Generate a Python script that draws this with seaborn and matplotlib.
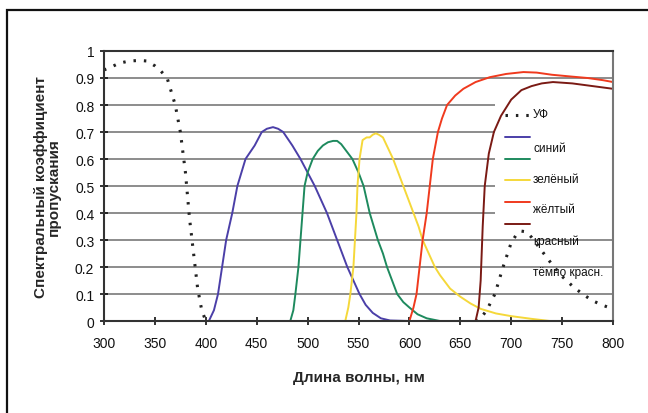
import numpy as np
import pandas as pd
import matplotlib
matplotlib.use("Agg")
import matplotlib.pyplot as plt
import seaborn as sns
from matplotlib.patches import Rectangle

# ==========================================
# DATA
# ==========================================

# UV filter: two pass bands (short-wave and the small bump near 710 nm)
uv_nm = [300, 305, 315, 325, 335, 342, 350, 356, 362, 366, 370, 375, 380, 384, 388, 392, 396, 400,
         665, 670, 676, 684, 692, 700, 706, 710, 715, 720, 730, 740, 750, 760, 770, 780, 790, 800]
uv_t = [0.93, 0.937, 0.955, 0.963, 0.965, 0.963, 0.945, 0.925, 0.9, 0.85, 0.8, 0.7, 0.55, 0.38, 0.25, 0.12, 0.04, 0.0,
        0.0, 0.01, 0.04, 0.1, 0.2, 0.29, 0.325, 0.333, 0.33, 0.31, 0.26, 0.21, 0.165, 0.13, 0.1, 0.075, 0.058, 0.045]
uv_band = [1] * 18 + [2] * 18

blue_nm = [403, 408, 412, 416, 420, 426, 431, 439, 448, 455, 460, 466, 471, 476, 485, 493, 500, 507,
           513, 519, 524, 529, 534, 539, 545, 551, 557, 564, 572, 581, 600]
blue_t = [0.0, 0.04, 0.1, 0.2, 0.3, 0.4, 0.5, 0.6, 0.65, 0.7, 0.712, 0.718, 0.712, 0.7, 0.65, 0.6, 0.55, 0.5,
          0.45, 0.4, 0.35, 0.3, 0.25, 0.2, 0.15, 0.1, 0.06, 0.03, 0.01, 0.002, 0.0]

green_nm = [483, 486, 488, 491, 493, 495, 497, 500, 505, 510, 515, 520, 525, 529, 533, 538, 544, 550,
            555, 561, 565, 569, 574, 578, 583, 588, 594, 600, 608, 617, 630]
green_t = [0.0, 0.04, 0.1, 0.2, 0.3, 0.4, 0.5, 0.55, 0.6, 0.63, 0.65, 0.662, 0.667, 0.667, 0.655, 0.63, 0.6, 0.55,
           0.5, 0.4, 0.35, 0.3, 0.25, 0.2, 0.15, 0.1, 0.07, 0.05, 0.025, 0.01, 0.0]

yellow_nm = [537, 540, 542, 545, 548, 549, 551, 554, 558, 561, 564, 567, 570, 574, 579, 584, 589, 594,
             599, 604, 609, 613, 619, 625, 630, 640, 650, 660, 670, 685, 700, 720, 738]
yellow_t = [0.0, 0.05, 0.1, 0.2, 0.4, 0.5, 0.6, 0.67, 0.68, 0.68, 0.69, 0.695, 0.69, 0.68, 0.64, 0.6, 0.55, 0.5,
            0.45, 0.4, 0.35, 0.3, 0.25, 0.2, 0.17, 0.12, 0.09, 0.065, 0.045, 0.028, 0.018, 0.008, 0.0]

red_nm = [600, 604, 607, 610, 613, 617, 620, 623, 628, 632, 637, 645, 653, 665, 679, 695, 712, 725, 740, 760, 775, 790, 800]
red_t = [0.0, 0.05, 0.1, 0.2, 0.3, 0.4, 0.5, 0.6, 0.7, 0.75, 0.8, 0.835, 0.86, 0.885, 0.903, 0.915, 0.922, 0.92, 0.912, 0.905, 0.9, 0.892, 0.885]

dred_nm = [665, 668, 670, 672, 674, 678, 683, 690, 700, 710, 720, 730, 741, 760, 780, 800]
dred_t = [0.0, 0.05, 0.15, 0.35, 0.5, 0.62, 0.7, 0.76, 0.82, 0.855, 0.87, 0.88, 0.885, 0.88, 0.87, 0.86]

labels = ["УФ", "синий", "зелёный", "жёлтый", "красный", "тёмно красн."]
colors = ["#222222", "#4B3FA8", "#1E8A5E", "#F5D83A", "#F03A1E", "#7A1A14"]

x_ticks = list(range(300, 801, 50))
y_ticks = [0, 0.1, 0.2, 0.3, 0.4, 0.5, 0.6, 0.7, 0.8, 0.9, 1]
y_tick_labels = ["0", "0.1", "0.2", "0.3", "0.4", "0.5", "0.6", "0.7", "0.8", "0.9", "1"]

series = [(uv_nm, uv_t, uv_band), (blue_nm, blue_t, None), (green_nm, green_t, None),
          (yellow_nm, yellow_t, None), (red_nm, red_t, None), (dred_nm, dred_t, None)]

frames = []
for lab, (nm, t, band) in zip(labels, series):
    frames.append(pd.DataFrame({"nm": nm, "T": t, "filter": lab,
                                "band": band if band is not None else [1] * len(nm)}))
df = pd.concat(frames, ignore_index=True)

# ==========================================
# PLOT
# ==========================================

sns.set_style("white")
plt.rcParams["font.family"] = ["Liberation Sans", "DejaVu Sans"]

fig = plt.figure(figsize=(6.48, 4.14), dpi=100)
ax = fig.add_axes([0.1605, 0.2222, 0.7855, 0.6522])

# outer frame (left + top lines)
fig.patches.append(Rectangle((7 / 648, -0.1), 1.2, 1 - 11 / 414 + 0.1,
                             transform=fig.transFigure, fill=False,
                             edgecolor="#111111", linewidth=1.6, clip_on=False))

for yv in y_ticks[1:-1]:
    ax.axhline(yv, color="#8c8c8c", linewidth=1.4, zorder=0)

# white legend panel that hides the grid behind the legend
ax.add_patch(Rectangle((0.768, 0.335), 0.232, 0.49, transform=ax.transAxes,
                       facecolor="white", edgecolor="none", zorder=1))

def style_of(lab):
    if lab == "УФ":
        return dict(linewidth=2.2, linestyle=(0, (0.8, 2.6)))
    return dict(linewidth=1.4, linestyle="-")

for lab, col in zip(labels, colors):
    sub = df[df["filter"] == lab]
    sns.lineplot(data=sub, x="nm", y="T", units="band", ax=ax, color=col,
                 estimator=None, sort=False, zorder=2, **style_of(lab))

ax.set_xlim(300, 800)
ax.set_ylim(0, 1)
ax.set_xticks(x_ticks)
ax.set_yticks(y_ticks)
ax.set_yticklabels(y_tick_labels)
ax.tick_params(axis="both", direction="inout", length=6, width=1.2,
               labelsize=10, colors="#111111", left=True, bottom=True, pad=4)
ax.tick_params(axis="x", pad=8)

for side in ["left", "bottom", "top"]:
    ax.spines[side].set_color("#333333")
    ax.spines[side].set_linewidth(1.5)
    ax.spines[side].set_zorder(5)
ax.spines["right"].set_color("#777777")
ax.spines["right"].set_linewidth(1.5)

ax.set_xlabel("Длина волны, нм", fontsize=11, fontweight="bold",
              family=["Liberation Sans Narrow", "Liberation Sans"], labelpad=14)
ax.set_ylabel("Спектральный коэффициент\nпропускания", fontsize=11, fontweight="bold",
              family=["Liberation Sans Narrow", "Liberation Sans"], labelpad=10, linespacing=0.95)

# legend keys (tight rows) and their labels (wider rows), as in the original
handles = [plt.Line2D([], [], color=c, **style_of(l)) for l, c in zip(labels, colors)]
leg = ax.legend(handles, [" "] * len(labels), loc="upper left", bbox_to_anchor=(0.788, 0.782),
                frameon=False, fontsize=8.5, handlelength=2.1, handletextpad=0.2,
                labelspacing=0.84, borderpad=0, borderaxespad=0)
leg.set_zorder(6)

label_y = [0.767, 0.641, 0.526, 0.415, 0.296, 0.181]
for lab, yy in zip(labels, label_y):
    ax.text(0.843, yy, lab, transform=ax.transAxes, fontsize=8.5, va="center",
            ha="left", color="#111111", zorder=6)

fig.savefig("out.png", dpi=100, facecolor="white")
